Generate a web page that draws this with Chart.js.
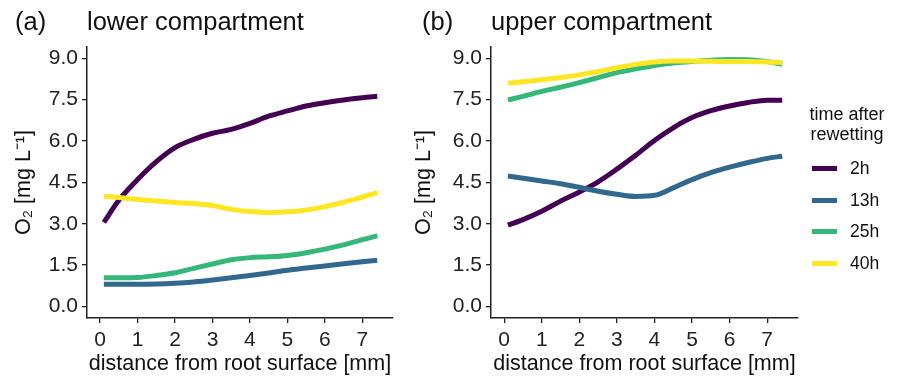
<!DOCTYPE html>
<html>
<head>
<meta charset="utf-8">
<script src="https://cdn.jsdelivr.net/npm/chart.js@4.4.1/dist/chart.umd.min.js"></script>
<style>
  body { margin: 0; background: #fff; }
  #wrap { position: relative; width: 898px; height: 377px; font-family: "Liberation Sans", Arial, sans-serif; }
  canvas { position: absolute; top: 0; }
  #legend { position: absolute; left: 800px; top: 104px; width: 98px; color: #111; }
  #legend .ttl { font-size: 18px; line-height: 20px; text-align: center; width: 94px; }
  #legend .row { position: absolute; left: 12px; height: 20px; font-size: 17.5px; }
  #legend .key { position: absolute; left: 0; top: 8px; width: 25px; height: 5px; }
  #legend .lab { position: absolute; left: 38px; top: 0; line-height: 20px; }
</style>
</head>
<body>
<div id="wrap">
  <canvas id="lower" width="400" height="377" style="left:0"></canvas>
  <canvas id="upper" width="498" height="377" style="left:400px"></canvas>
  <div id="legend"></div>
</div>
<script>
// distance from root surface [mm]
const distance = [0.1, 0.5, 1, 1.5, 2, 2.5, 3, 3.5, 4, 4.5, 5, 5.5, 6, 6.5, 7, 7.4];
const times = ['2h', '13h', '25h', '40h'];
const colors = ['#440154', '#31688e', '#35b779', '#fde725'];

// lower compartment, O2 [mg/L]
const lower2h  = [3.05, 3.85, 4.6, 5.25, 5.76, 6.06, 6.28, 6.42, 6.64, 6.9, 7.09, 7.27, 7.39, 7.49, 7.57, 7.62];
const lower13h = [0.8, 0.8, 0.8, 0.81, 0.84, 0.89, 0.96, 1.04, 1.12, 1.21, 1.31, 1.39, 1.47, 1.55, 1.62, 1.67];
const lower25h = [1.04, 1.04, 1.05, 1.12, 1.22, 1.38, 1.54, 1.69, 1.77, 1.8, 1.85, 1.95, 2.08, 2.23, 2.42, 2.56];
const lower40h = [4.0, 3.95, 3.88, 3.82, 3.77, 3.73, 3.66, 3.52, 3.44, 3.41, 3.43, 3.5, 3.62, 3.78, 3.97, 4.13];

// upper compartment, O2 [mg/L]
const upper2h  = [2.95, 3.15, 3.45, 3.82, 4.15, 4.52, 4.98, 5.48, 6.02, 6.48, 6.85, 7.1, 7.27, 7.4, 7.48, 7.48];
const upper13h = [4.73, 4.65, 4.55, 4.45, 4.32, 4.18, 4.07, 3.99, 4.03, 4.3, 4.6, 4.85, 5.05, 5.22, 5.37, 5.45];
const upper25h = [7.49, 7.62, 7.8, 7.95, 8.12, 8.3, 8.48, 8.62, 8.74, 8.83, 8.88, 8.93, 8.96, 8.95, 8.88, 8.78];
const upper40h = [8.1, 8.15, 8.22, 8.3, 8.4, 8.52, 8.66, 8.78, 8.87, 8.9, 8.9, 8.89, 8.88, 8.88, 8.87, 8.85];

const xTicks = [0, 1, 2, 3, 4, 5, 6, 7];
const yTicks = [0, 1.5, 3, 4.5, 6, 7.5, 9];

const FONT = '"Liberation Sans", Arial, sans-serif';

function makeDatasets(seriesList) {
    return seriesList.map((vals, i) => ({
        label: times[i],
        data: vals.map((v, j) => ({ x: distance[j], y: v })),
        borderColor: colors[i],
        borderWidth: 5,
        pointRadius: 0,
        tension: 0.4,
        cubicInterpolationMode: 'monotone',
        order: seriesList.length - i
    }));
}

// panel letter + heading above the plot
const headingPlugin = {
    id: 'heading',
    afterDraw(chart, args, opts) {
        const ctx = chart.ctx;
        ctx.save();
        ctx.fillStyle = '#111';
        ctx.font = '25.5px ' + FONT;
        ctx.textBaseline = 'alphabetic';
        ctx.textAlign = 'left';
        ctx.fillText(opts.tag, opts.tagX, 30);
        ctx.fillText(opts.text, chart.chartArea.left, 30);
        ctx.restore();
    }
};

function makeChart(id, seriesList, tag, tagX, heading, yWidth, padRight) {
    new Chart(document.getElementById(id), {
        type: 'line',
        data: { datasets: makeDatasets(seriesList) },
        plugins: [headingPlugin],
        options: {
            responsive: false,
            animation: false,
            layout: { padding: { top: 47, right: padRight, bottom: 0, left: 0 } },
            plugins: {
                legend: { display: false },
                tooltip: { enabled: false },
                heading: { tag: tag, tagX: tagX, text: heading }
            },
            scales: {
                x: {
                    type: 'linear',
                    min: -0.35,
                    max: 7.82,
                    afterBuildTicks: s => { s.ticks = xTicks.map(v => ({ value: v })); },
                    afterFit: s => { s.height = 59; },
                    grid: { drawOnChartArea: false, drawTicks: true, tickLength: 5, color: '#222', lineWidth: 1.3 },
                    border: { display: true, color: '#222', width: 1.5 },
                    ticks: { color: '#222', font: { family: FONT, size: 21 }, padding: 5, maxRotation: 0 },
                    title: { display: true, text: 'distance from root surface [mm]', color: '#111',
                             font: { family: FONT, size: 21.5 }, padding: { top: 0, bottom: 0 } }
                },
                y: {
                    type: 'linear',
                    min: -0.42,
                    max: 9.41,
                    afterBuildTicks: s => { s.ticks = yTicks.map(v => ({ value: v })); },
                    afterFit: s => { s.width = yWidth; },
                    grid: { drawOnChartArea: false, drawTicks: true, tickLength: 5, color: '#222', lineWidth: 1.3 },
                    border: { display: true, color: '#222', width: 1.5 },
                    ticks: { color: '#222', font: { family: FONT, size: 21 }, padding: 4,
                             callback: v => v.toFixed(1) },
                    title: { display: true, text: 'O₂ [mg L⁻¹]', color: '#111',
                             font: { family: FONT, size: 21.5 }, padding: { top: 11, bottom: 0 } }
                }
            }
        }
    });
}

makeChart('lower', [lower2h, lower13h, lower25h, lower40h], '(a)', 15, 'lower compartment', 87, 7);
makeChart('upper', [upper2h, upper13h, upper25h, upper40h], '(b)', 22, 'upper compartment', 91, 100);

// legend
const legend = document.getElementById('legend');
legend.innerHTML = '<div class="ttl">time after<br>rewetting</div>';
times.forEach((t, i) => {
    const row = document.createElement('div');
    row.className = 'row';
    row.style.top = (54 + i * 31.5) + 'px';
    row.innerHTML = '<span class="key" style="background:' + colors[i] + '"></span><span class="lab">' + t + '</span>';
    legend.appendChild(row);
});
</script>
</body>
</html>
